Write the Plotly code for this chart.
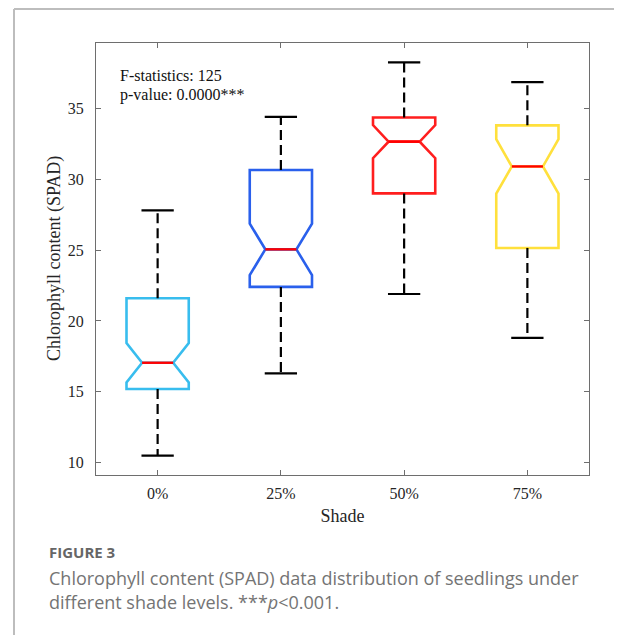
import plotly.graph_objects as go

# ---- data ----
categories = ["0%", "25%", "50%", "75%"]
lower_whisker = [10.5, 16.3, 21.9, 18.8]
q1_values = [15.2, 22.4, 29.0, 25.15]
median_values = [17.05, 25.05, 32.65, 30.9]
q3_values = [21.6, 30.65, 34.35, 33.8]
upper_whisker = [27.8, 34.4, 38.25, 36.85]
notch_half = [1.39, 1.82, 1.17, 1.92]
box_colors = ["#38BDEE", "#2A60EC", "#FF1E1E", "#FFE03C"]
y_ticks = [10, 15, 20, 25, 30, 35]

# page is rendered with an 8px body margin -> work in page pixels, shift by OFF
OFF = 8
PAGE_W, PAGE_H = 622, 635
W, H = PAGE_W - OFF, PAGE_H - OFF
L, R, T, B = 96 - OFF, 589 - OFF, 43 - OFF, 475 - OFF

def px(x_page):
    return ((x_page - OFF) - L) / (R - L)

def py(y_page):
    return (B - (y_page - OFF)) / (B - T)

BOX_W = 0.505
CAP_HALF = 0.131
MED_HALF = BOX_W / 4

serif = "Liberation Serif, Times New Roman, serif"
sans = "Open Sans, Noto Sans, sans-serif"

fig = go.Figure()
pos = list(range(len(categories)))

for i, c in enumerate(categories):
    fig.add_trace(go.Scatter(
        x=[i, i, None, i, i],
        y=[q3_values[i], upper_whisker[i], None, q1_values[i], lower_whisker[i]],
        mode="lines", line=dict(color="black", width=2.2, dash="10px,5px"),
        showlegend=False, hoverinfo="skip"))
    fig.add_trace(go.Scatter(
        x=[i - CAP_HALF, i + CAP_HALF, None, i - CAP_HALF, i + CAP_HALF],
        y=[upper_whisker[i], upper_whisker[i], None, lower_whisker[i], lower_whisker[i]],
        mode="lines", line=dict(color="black", width=2.2),
        showlegend=False, hoverinfo="skip"))
    fig.add_trace(go.Box(
        x=[i], q1=[q1_values[i]], median=[median_values[i]], q3=[q3_values[i]],
        lowerfence=[q1_values[i]], upperfence=[q3_values[i]],
        notched=True, notchspan=[notch_half[i]], notchwidth=0.25,
        width=BOX_W, whiskerwidth=0,
        line=dict(color=box_colors[i], width=2.6),
        fillcolor="rgba(255,255,255,0)",
        boxpoints=False, showlegend=False, name=c, hoverinfo="skip"))
    fig.add_trace(go.Scatter(
        x=[i - MED_HALF, i + MED_HALF], y=[median_values[i], median_values[i]],
        mode="lines", line=dict(color="#FF0000", width=2.4),
        showlegend=False, hoverinfo="skip"))

axis_common = dict(
    showline=True, linecolor="#6e6e6e", linewidth=1, mirror="ticks",
    ticks="inside", ticklen=5, tickcolor="#6e6e6e", tickwidth=1,
    showgrid=False, zeroline=False,
    tickfont=dict(family=serif, size=16, color="#262626"),
)

fig.update_xaxes(
    range=[-0.5, 3.5], tickmode="array", tickvals=pos, ticktext=categories,
    ticklabelstandoff=4,
    title=dict(text="Shade", font=dict(family=serif, size=18, color="#262626"), standoff=8),
    **axis_common)
fig.update_yaxes(
    range=[9.13, 39.61], tickmode="array", tickvals=y_ticks,
    ticktext=[str(v) for v in y_ticks], ticklabelstandoff=8,
    **axis_common)

annotations = [
    dict(text="Chlorophyll content (SPAD)", x=px(54), y=0.5, xref="paper", yref="paper",
         xanchor="center", yanchor="middle", textangle=-90, showarrow=False,
         font=dict(family=serif, size=18, color="#262626")),
    dict(text="F-statistics: 125", x=px(118), y=py(75), xref="paper", yref="paper",
         xanchor="left", yanchor="middle", showarrow=False,
         font=dict(family=serif, size=16, color="#111")),
    dict(text="p-value: 0.0000***", x=px(118), y=py(95), xref="paper", yref="paper",
         xanchor="left", yanchor="middle", showarrow=False,
         font=dict(family=serif, size=16, color="#111")),
    dict(text="<b>FIGURE 3</b>", x=px(47), y=py(552), xref="paper", yref="paper",
         xanchor="left", yanchor="middle", showarrow=False,
         font=dict(family=sans, size=15, color="#666666")),
    dict(text="Chlorophyll content (SPAD) data distribution of seedlings under",
         x=px(47), y=py(578), xref="paper", yref="paper",
         xanchor="left", yanchor="middle", showarrow=False,
         font=dict(family=sans, size=18, color="#747474")),
    dict(text="different shade levels. ***<i>p</i>&lt;0.001.",
         x=px(47), y=py(602), xref="paper", yref="paper",
         xanchor="left", yanchor="middle", showarrow=False,
         font=dict(family=sans, size=18, color="#747474")),
]

shapes = [
    dict(type="line", xref="paper", yref="paper", x0=px(14), x1=px(PAGE_W + 5), y0=py(OFF + 1), y1=py(OFF + 1),
         line=dict(color="#bdbdbd", width=2)),
    dict(type="line", xref="paper", yref="paper", x0=px(14), x1=px(14), y0=py(OFF + 1), y1=py(PAGE_H + 5),
         line=dict(color="#bdbdbd", width=2)),
]

fig.update_layout(
    width=W, height=H,
    margin=dict(l=L, r=W - R, t=T, b=H - B),
    paper_bgcolor="white", plot_bgcolor="white",
    annotations=annotations, shapes=shapes,
    showlegend=False,
)

fig.write_html("out.html")
